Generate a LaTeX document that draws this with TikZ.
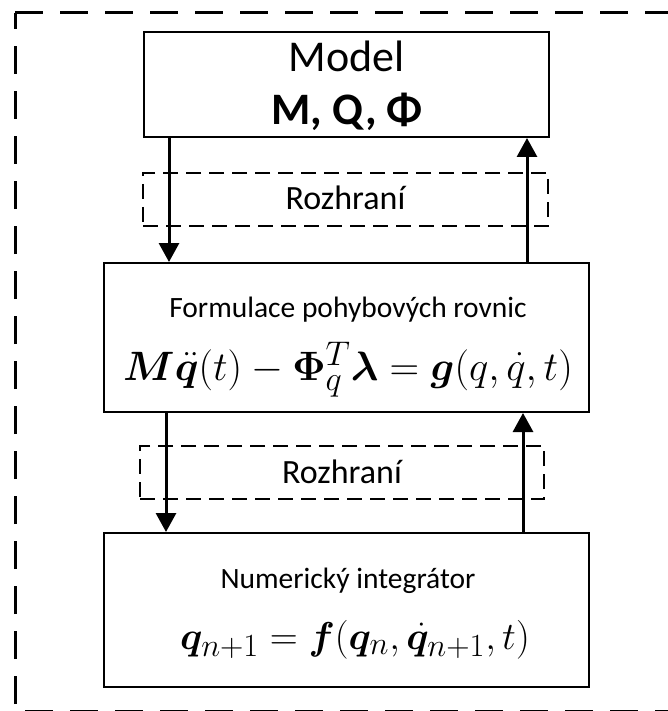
\documentclass[tikz,border=0pt]{standalone}
\usepackage{amsmath}
\usepackage{bm}
\usepackage{graphicx}
\usepackage{fontspec}
\setmainfont{Carlito}
\usetikzlibrary{arrows.meta}
\tikzset{
  box/.style={draw=black, line width=2pt, rectangle, inner sep=0pt},
  ifbox/.style={draw=black, line width=2pt, dash pattern=on 15pt off 8pt, rectangle, inner sep=0pt},
  frame/.style={draw=black, line width=3pt, dash pattern=on 28pt off 17pt},
  arr/.style={line width=3pt, -{Triangle[width=20pt,length=19pt]}},
  txt/.style={anchor=base, inner sep=0pt},
  eqtxt/.style={anchor=base, inner sep=0pt, font=\fontsize{24.88}{28}\selectfont},
}
\begin{document}
\begin{tikzpicture}[x=1pt,y=-1pt]
\useasboundingbox (0,0) rectangle (668,711);
\draw[frame] (15,13) -- (720,13) -- (720,711) -- (15,711) -- cycle;
% boxes
\node[box, minimum width=405pt, minimum height=105pt] (model) at (346.5,84.5) {};
\node[ifbox, minimum width=405pt, minimum height=53pt] (rz1) at (345.5,199.5) {};
\node[box, minimum width=485pt, minimum height=149pt] (form) at (346.5,337.5) {};
\node[ifbox, minimum width=404pt, minimum height=53pt] (rz2) at (342,472.5) {};
\node[box, minimum width=485pt, minimum height=154pt] (integ) at (346.5,610) {};
% texts
\node[txt, font=\fontsize{44}{50}\selectfont] (tmodel) at (346.5,72) {Model};
\node[txt, font=\fontsize{45}{50}\selectfont\bfseries] (tmqf) at (347,125) {M, Q, Φ};
\node[txt, font=\fontsize{34}{40}\selectfont] (trz1) at (345.5,210) {Rozhraní};
\node[txt, font=\fontsize{29.5}{34}\selectfont] (tform) at (348,317) {Formulace pohybových rovnic};
\node[eqtxt] (eqform) at (348,380) {\scalebox{1.65}{$\bm{M}\ddot{\bm{q}}(t)-\bm{\Phi}_q^T\bm{\lambda}=\bm{g}(q,\dot{q},t)$}};
\node[txt, font=\fontsize{34}{40}\selectfont] (trz2) at (342,483) {Rozhraní};
\node[txt, font=\fontsize{29.5}{34}\selectfont] (tinteg) at (348,588) {Numerický integrátor};
\node[eqtxt] (eqinteg) at (355,649) {\scalebox{1.56}{$\bm{q}_{n+1}=\bm{f}(\bm{q}_n,\dot{\bm{q}}_{n+1},t)$}};
% arrows
\coordinate (xa) at (169,0);
\coordinate (xb) at (527,0);
\coordinate (xc) at (166,0);
\coordinate (xd) at (523,0);
\draw[arr] (model.south -| xa) -- (form.north -| xa);
\draw[arr] (form.north -| xb) -- (model.south -| xb);
\draw[arr] (form.south -| xc) -- (integ.north -| xc);
\draw[arr] (integ.north -| xd) -- (form.south -| xd);
\end{tikzpicture}
\end{document}
